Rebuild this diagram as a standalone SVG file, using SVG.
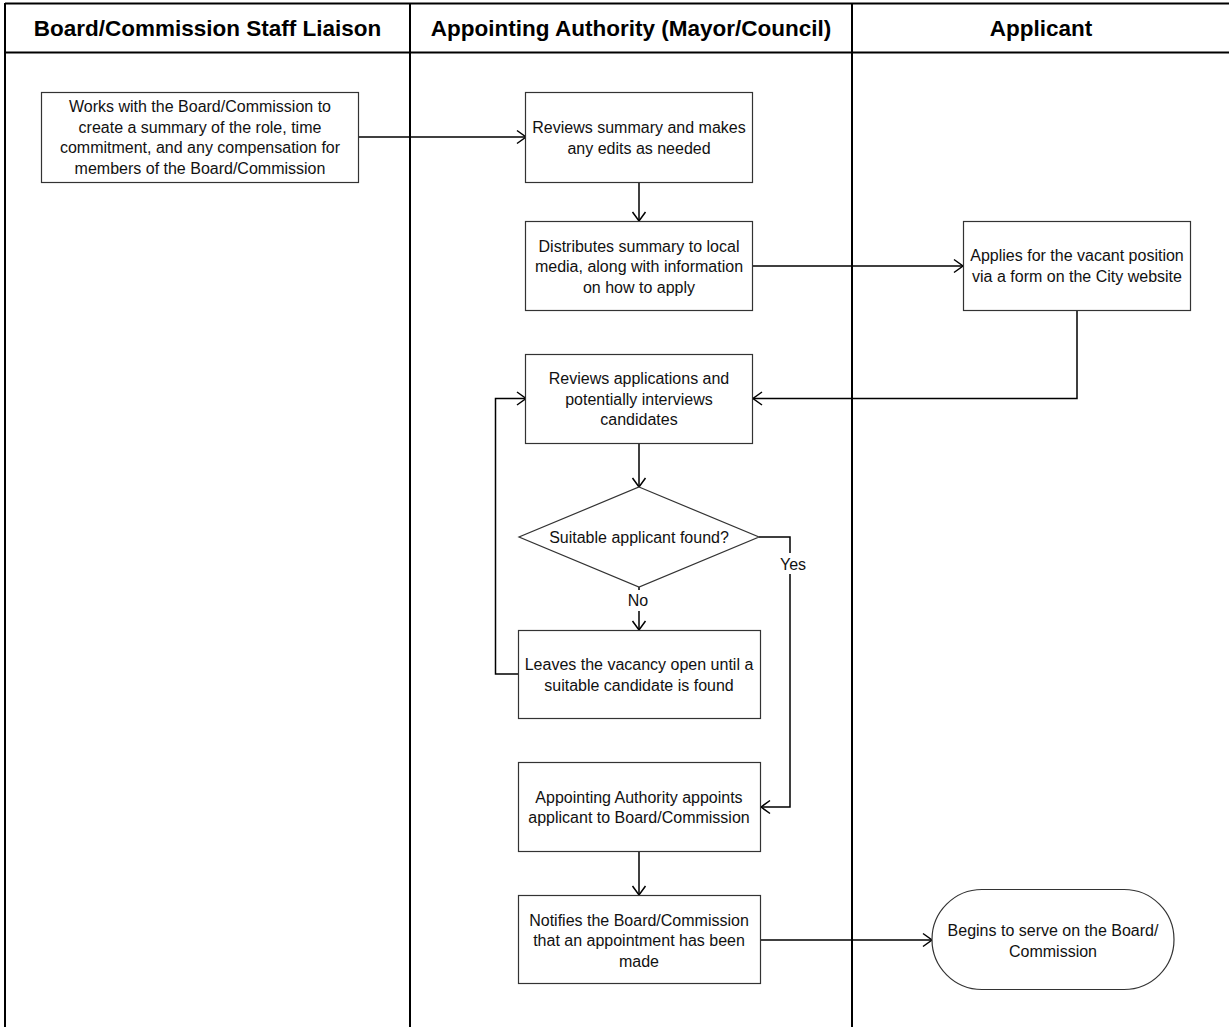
<svg xmlns="http://www.w3.org/2000/svg" width="1229" height="1027" viewBox="0 0 1229 1027">
<style>
.lane{stroke:#000;stroke-width:2;fill:none}
.hdr{font-family:"Liberation Sans",Arial,sans-serif;font-weight:bold;font-size:22.5px;fill:#000;text-anchor:middle}
.box{fill:#fff;stroke:#333;stroke-width:1.2}
.t{font-family:"Liberation Sans",Arial,sans-serif;font-size:16px;fill:#111;text-anchor:middle}
.c{fill:none;stroke:#000;stroke-width:1.5;marker-end:url(#arr)}
.lbl{font-family:"Liberation Sans",Arial,sans-serif;font-size:16px;fill:#111;text-anchor:middle}
</style>
<defs>
<marker id="arr" viewBox="-11 -8 13 16" markerWidth="13" markerHeight="16" refX="0" refY="0" orient="auto" markerUnits="userSpaceOnUse">
<path d="M-9,-6.5 L0,0 L-9,6.5" fill="none" stroke="#000" stroke-width="1.5"/>
</marker>
</defs>
<rect width="1229" height="1027" fill="#fff"/>
<g id="lanes">
<line class="lane" x1="5" y1="3.5" x2="1229" y2="3.5"/>
<line class="lane" x1="5" y1="52.5" x2="1229" y2="52.5"/>
<line class="lane" x1="5" y1="3" x2="5" y2="1027"/>
<line class="lane" x1="410" y1="3" x2="410" y2="1027"/>
<line class="lane" x1="852" y1="3" x2="852" y2="1027"/>
<text class="hdr" x="207.5" y="36">Board/Commission Staff Liaison</text>
<text class="hdr" x="631" y="36">Appointing Authority (Mayor/Council)</text>
<text class="hdr" x="1041" y="36">Applicant</text>
</g>
<g id="connectors">
<path class="c" d="M358,137 H526"/>
<path class="c" d="M639,182 V221"/>
<path class="c" d="M753,266 H963"/>
<path class="c" d="M1077,310 V398.5 H753"/>
<path class="c" d="M639,443 V487"/>
<path class="c" d="M759,537 H790 V807 H761"/>
<path class="c" d="M639,587 V630"/>
<path class="c" d="M518,674 H495.5 V398.5 H526"/>
<path class="c" d="M639,852 V895"/>
<path class="c" d="M761,940 H932"/>
<rect x="780" y="553" width="27" height="21" fill="#fff"/>
<text class="lbl" x="793" y="570">Yes</text>
<rect x="626" y="590" width="25" height="21" fill="#fff"/>
<text class="lbl" x="638" y="606">No</text>
</g>
<g id="n1">
<rect class="box" x="41.5" y="92.5" width="317" height="90"/>
<text class="t"><tspan x="200" y="112">Works with the Board/Commission to</tspan><tspan x="200" y="132.5">create a summary of the role, time</tspan><tspan x="200" y="153">commitment, and any compensation for</tspan><tspan x="200" y="173.5">members of the Board/Commission</tspan></text>
</g>
<g id="n2">
<rect class="box" x="525.5" y="92.5" width="227" height="90"/>
<text class="t"><tspan x="639" y="133">Reviews summary and makes</tspan><tspan x="639" y="153.5">any edits as needed</tspan></text>
</g>
<g id="n3">
<rect class="box" x="525.5" y="221.5" width="227" height="89"/>
<text class="t"><tspan x="639" y="251.5">Distributes summary to local</tspan><tspan x="639" y="272">media, along with information</tspan><tspan x="639" y="292.5">on how to apply</tspan></text>
</g>
<g id="n4">
<rect class="box" x="963.5" y="221.5" width="227" height="89"/>
<text class="t"><tspan x="1077" y="261">Applies for the vacant position</tspan><tspan x="1077" y="281.5">via a form on the City website</tspan></text>
</g>
<g id="n5">
<rect class="box" x="525.5" y="354.5" width="227" height="89"/>
<text class="t"><tspan x="639" y="384">Reviews applications and</tspan><tspan x="639" y="404.5">potentially interviews</tspan><tspan x="639" y="425">candidates</tspan></text>
</g>
<g id="n6">
<path class="box" d="M639,487 L759,537 L639,587 L519,537 Z"/>
<text class="t" x="639" y="543">Suitable applicant found?</text>
</g>
<g id="n7">
<rect class="box" x="518.5" y="630.5" width="242" height="88"/>
<text class="t"><tspan x="639" y="670">Leaves the vacancy open until a</tspan><tspan x="639" y="690.5">suitable candidate is found</tspan></text>
</g>
<g id="n8">
<rect class="box" x="518.5" y="762.5" width="242" height="89"/>
<text class="t"><tspan x="639" y="802.5">Appointing Authority appoints</tspan><tspan x="639" y="823">applicant to Board/Commission</tspan></text>
</g>
<g id="n9">
<rect class="box" x="518.5" y="895.5" width="242" height="88"/>
<text class="t"><tspan x="639" y="925.5">Notifies the Board/Commission</tspan><tspan x="639" y="946">that an appointment has been</tspan><tspan x="639" y="966.5">made</tspan></text>
</g>
<g id="n10">
<rect class="box" x="932" y="889.5" width="242" height="100" rx="50" ry="50"/>
<text class="t"><tspan x="1053" y="936">Begins to serve on the Board/</tspan><tspan x="1053" y="956.5">Commission</tspan></text>
</g>
</svg>
